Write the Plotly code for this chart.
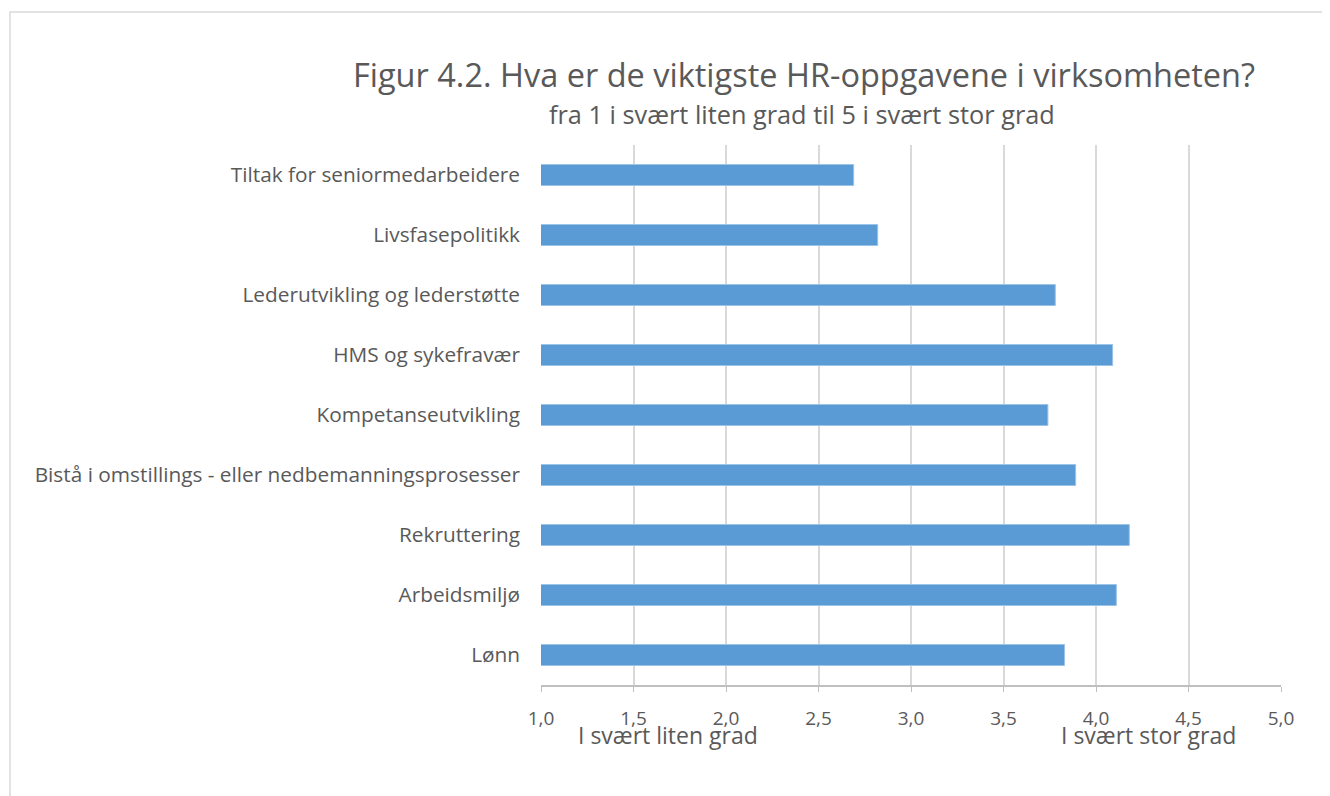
import plotly.graph_objects as go

# Kategorier ovenfra og ned
categories = [
    "Tiltak for seniormedarbeidere",
    "Livsfasepolitikk",
    "Lederutvikling og lederstøtte",
    "HMS og sykefravær",
    "Kompetanseutvikling",
    "Bistå i omstillings - eller nedbemanningsprosesser",
    "Rekruttering",
    "Arbeidsmiljø",
    "Lønn",
]
scores = [2.69, 2.82, 3.78, 4.09, 3.74, 3.89, 4.18, 4.11, 3.83]

tick_vals = [1.0, 1.5, 2.0, 2.5, 3.0, 3.5, 4.0, 4.5, 5.0]
tick_text = ["1,0", "1,5", "2,0", "2,5", "3,0", "3,5", "4,0", "4,5", "5,0"]

grey = "#595959"

fig = go.Figure()
fig.add_trace(go.Bar(
    x=scores,
    y=categories,
    orientation="h",
    width=0.35,
    marker=dict(color="#5b9bd5", line=dict(color="#9dc3e6", width=1)),
))

fig.update_layout(
    width=1330,
    height=796,
    margin=dict(l=533, r=57, t=137, b=119),
    paper_bgcolor="white",
    plot_bgcolor="white",
    showlegend=False,
    font=dict(family="Open Sans, sans-serif", color=grey, size=20),
    xaxis=dict(
        range=[1, 5],
        tickvals=tick_vals,
        ticktext=tick_text,
        showgrid=True,
        gridcolor="#d9d9d9",
        gridwidth=1.5,
        zeroline=False,
        showline=True,
        linecolor="#bfbfbf",
        linewidth=1.5,
        ticks="outside",
        ticklen=5,
        tickcolor="#bfbfbf",
        ticklabelstandoff=10,
        tickfont=dict(size=19, color=grey),
        fixedrange=True,
    ),
    yaxis=dict(
        autorange="reversed",
        showgrid=False,
        zeroline=False,
        showline=False,
        ticks="",
        ticklabelstandoff=20,
        tickfont=dict(size=20.8, color=grey),
        fixedrange=True,
    ),
    shapes=[
        dict(type="rect", xref="paper", yref="paper",
             x0=-0.7176, x1=1.0595, y0=-0.25, y1=1.2463,
             line=dict(color="#d9d9d9", width=1.5), fillcolor="rgba(0,0,0,0)",
             layer="below"),
    ],
    annotations=[
        dict(text="Figur 4.2. Hva er de viktigste HR-oppgavene i virksomheten?",
             xref="paper", yref="paper", x=0.356, y=1.131, xanchor="center", yanchor="middle",
             showarrow=False, font=dict(size=32.5, color=grey)),
        dict(text="fra 1 i svært liten grad til 5 i svært stor grad",
             xref="paper", yref="paper", x=0.353, y=1.058, xanchor="center", yanchor="middle",
             showarrow=False, font=dict(size=25.3, color=grey)),
        dict(text="I svært liten grad",
             xref="paper", yref="paper", x=0.0473, y=-0.0926, xanchor="left", yanchor="middle",
             showarrow=False, font=dict(size=23, color=grey)),
        dict(text="I svært stor grad",
             xref="paper", yref="paper", x=0.700, y=-0.0926, xanchor="left", yanchor="middle",
             showarrow=False, font=dict(size=23, color=grey)),
    ],
)

fig.write_html("out.html")
